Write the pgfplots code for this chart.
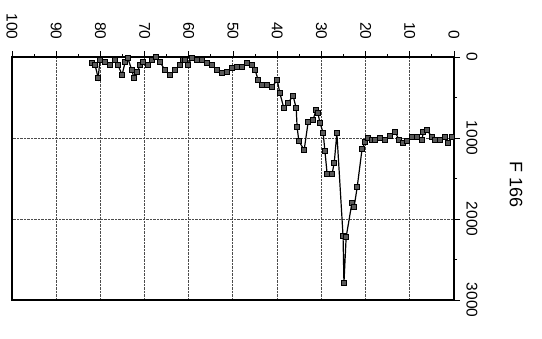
\documentclass[border=0pt]{standalone}
\usepackage{fontspec}
\setmainfont{Liberation Sans}
\usepackage{pgfplots}
\pgfplotsset{compat=1.18}
\begin{document}
\begin{tikzpicture}
\begin{axis}[
  scale only axis, width=442pt, height=243pt,
  xmin=0, xmax=100, x dir=reverse,
  ymin=0, ymax=3000, y dir=reverse,
  xtick={0,10,...,100}, minor x tick num=1,
  ytick={0,1000,2000,3000}, minor y tick num=1,
  xticklabel pos=upper, yticklabel pos=right,
  xtick pos=upper, ytick pos=upper,
  tick align=outside,
  major tick length=6pt, minor tick length=3pt,
  every tick/.style={black, line width=0.9pt},
  grid=major,
  major grid style={densely dotted, black!70, line width=1pt},
  axis line style={black, line width=1.2pt},
  /pgf/number format/assume math mode=true,
  /pgf/number format/1000 sep={},
  xticklabel style={rotate=-90, anchor=east, font=\fontsize{15.5}{16}\selectfont},
  yticklabel style={rotate=-90, anchor=south, font=\fontsize{15.5}{16}\selectfont},
  xticklabel shift=8pt, yticklabel shift=3pt,
  clip=false,
]
\addplot[black, line width=1.2pt, mark=square*, mark size=2.6pt,
  mark options={fill=black!65, draw=black, line width=0.7pt}]
coordinates {
(81.9,74) (81.2,99) (80.5,259) (80.1,37) (79.0,62) (77.8,99) (76.7,37) (76.0,99)
(75.1,222) (74.4,62) (73.8,12) (72.9,161) (72.4,259) (71.7,185) (71.0,99) (70.4,62)
(69.2,99) (68.3,37) (67.4,0) (66.5,62) (65.4,161) (64.3,222) (63.1,161) (62.0,99)
(61.3,37) (60.9,37) (60.2,99) (59.3,12) (58.1,37) (57.0,37) (55.9,74) (54.8,99)
(53.6,161) (52.5,198) (51.4,185) (50.2,136) (49.1,124) (48.0,124) (46.8,74) (45.7,99)
(45.0,161) (44.3,284) (43.4,346) (42.3,346) (41.2,370) (40.0,284) (39.4,445)
(38.5,630) (37.6,568) (36.4,482) (35.7,630) (35.5,865) (35.1,1037) (33.9,1149)
(33.0,803) (31.9,778) (31.2,655) (30.8,692) (30.3,815) (29.6,939) (29.2,1161)
(28.7,1445) (27.6,1445) (27.1,1309) (26.5,939) (25.1,2211) (24.9,2791) (24.4,2223)
(23.1,1803) (22.6,1852) (21.9,1606) (20.8,1136) (20.1,1050) (19.5,1000) (18.6,1025)
(17.9,1025) (16.7,1000) (15.6,1025) (14.5,976) (13.3,926) (12.4,1025) (11.5,1062)
(10.6,1037) (9.5,988) (8.4,988) (7.2,1025) (7.0,926) (6.1,901) (5.0,988) (4.3,1025)
(3.2,1025) (2.0,988) (1.4,1062) (0.5,988)
};
\end{axis}
\node[rotate=-90, font=\fontsize{18}{20}\selectfont] at ([xshift=62pt,yshift=-6pt]current axis.east) {F 166};
\pgfresetboundingbox
\useasboundingbox ([shift={(-12pt,-38pt)}]current axis.south west) rectangle ([shift={(88pt,57pt)}]current axis.north east);
\end{tikzpicture}
\end{document}
